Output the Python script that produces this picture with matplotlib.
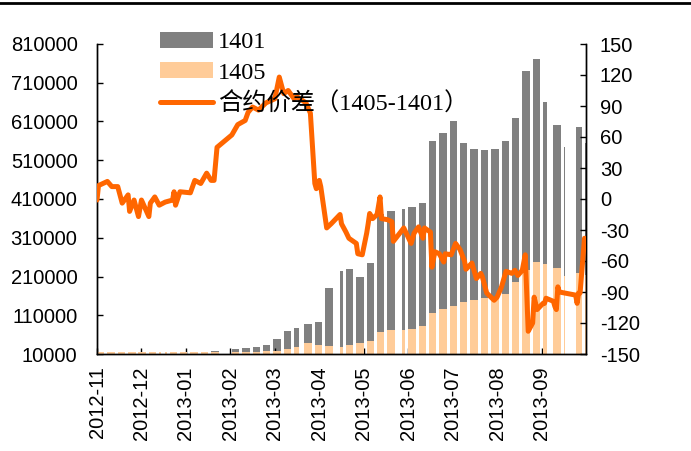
import matplotlib
matplotlib.use("Agg")
import matplotlib.pyplot as plt
import matplotlib.dates as mdates
from matplotlib.patches import Patch
from matplotlib.lines import Line2D
import pandas as pd
import numpy as np

# ---------------- data ----------------
week_starts = pd.date_range("2012-11-19", periods=48, freq="7D")  # Mondays
vol_1401 = [11000, 11000, 12000, 12000, 12000, 12000, 13000, 13000, 14000, 14000,
            15000, 17000, 17000, 22000, 26000, 29000, 34000, 48000, 70000, 78000,
            88000, 93000, 180000, 225000, 230000, 210000, 245000, 370000, 380000, 385000,
            390000, 400000, 560000, 580000, 610000, 555000, 540000, 537000, 540000, 560000,
            620000, 740000, 770000, 660000, 600000, 544000, 596000, 555000]
vol_1405 = [14000, 14000, 14000, 14000, 14000, 14000, 14000, 14000, 14000, 14000,
            14000, 14000, 14000, 14000, 15000, 15000, 17000, 19000, 22000, 28000,
            38000, 34000, 30000, 28000, 33000, 38000, 44000, 68000, 72000, 72000,
            75000, 82000, 115000, 125000, 135000, 145000, 150000, 154000, 156000, 165000,
            195000, 228000, 248000, 242000, 232000, 212000, 218000, 215000]
holidays = pd.to_datetime([
    "2013-01-01", "2013-01-02", "2013-01-03",
    "2013-02-11", "2013-02-12", "2013-02-13", "2013-02-14", "2013-02-15",
    "2013-04-04", "2013-04-05",
    "2013-04-29", "2013-04-30", "2013-05-01",
    "2013-06-10", "2013-06-11", "2013-06-12",
    "2013-09-19", "2013-09-20",
    "2013-10-01", "2013-10-02", "2013-10-03", "2013-10-04", "2013-10-07"])

spread_dates = pd.to_datetime([
    "2012-11-19", "2012-11-20", "2012-11-23", "2012-11-26", "2012-11-29", "2012-12-03",
    "2012-12-06", "2012-12-10", "2012-12-11", "2012-12-14", "2012-12-17", "2012-12-19",
    "2012-12-24", "2012-12-25", "2012-12-28", "2012-12-31", "2013-01-04", "2013-01-09",
    "2013-01-10", "2013-01-11", "2013-01-14", "2013-01-21", "2013-01-24", "2013-01-28",
    "2013-02-01", "2013-02-04", "2013-02-06", "2013-02-08", "2013-02-18", "2013-02-22",
    "2013-02-27", "2013-03-01", "2013-03-04", "2013-03-08", "2013-03-13", "2013-03-19",
    "2013-03-22", "2013-03-25", "2013-03-28", "2013-04-01", "2013-04-03", "2013-04-09",
    "2013-04-12", "2013-04-15", "2013-04-16", "2013-04-18", "2013-04-19", "2013-04-23",
    "2013-04-26", "2013-05-02", "2013-05-03", "2013-05-06", "2013-05-08", "2013-05-10",
    "2013-05-13", "2013-05-14", "2013-05-17", "2013-05-20", "2013-05-21", "2013-05-22",
    "2013-05-24", "2013-05-27", "2013-05-29", "2013-05-30", "2013-06-03", "2013-06-06",
    "2013-06-07", "2013-06-13", "2013-06-14", "2013-06-19", "2013-06-21", "2013-06-24",
    "2013-06-27", "2013-06-28", "2013-07-02", "2013-07-03", "2013-07-05", "2013-07-08",
    "2013-07-11", "2013-07-12", "2013-07-16", "2013-07-19", "2013-07-22", "2013-07-25",
    "2013-07-26", "2013-07-30", "2013-08-02", "2013-08-05", "2013-08-06", "2013-08-09",
    "2013-08-14", "2013-08-16", "2013-08-19", "2013-08-22", "2013-08-26", "2013-08-28",
    "2013-08-30", "2013-09-02", "2013-09-04", "2013-09-06", "2013-09-09", "2013-09-10",
    "2013-09-12", "2013-09-16", "2013-09-17", "2013-09-18", "2013-09-23", "2013-09-24",
    "2013-09-25", "2013-09-26", "2013-09-27", "2013-10-08", "2013-10-09", "2013-10-10",
    "2013-10-11", "2013-10-14"])
spread = [-1, 13, 15, 17, 12, 12,
          -4, 4, -12, -1, -17, -1,
          -17, -4, 2, -6, -3, -1,
          7, -6, 7, 6, 18, 15,
          25, 18, 18, 50, 62, 72,
          76, 84, 89, 86, 93, 97,
          118, 102, 105, 97, 99, 93,
          83, 15, 10, 18, 12, -28,
          -24, -15, -24, -32, -38, -40,
          -43, -53, -54, -33, -24, -14,
          -19, -15, 2, -19, -20, -22,
          -41, -30, -28, -43, -33, -27,
          -38, -28, -32, -66, -51, -53,
          -61, -53, -54, -43, -49, -60,
          -68, -62, -77, -72, -75, -91,
          -98, -95, -85, -70, -72, -69,
          -74, -69, -54, -128, -120, -95,
          -107, -101, -101, -96, -99, -104,
          -107, -85, -90, -93, -101, -91,
          -91, -38]

left_ticks = list(range(10000, 810001, 100000))
right_ticks = list(range(-150, 151, 30))
x_start, x_end = pd.Timestamp("2012-11-19"), pd.Timestamp("2013-10-15")
x_ticks = pd.date_range(x_start, periods=11, freq="30D")
x_labels = ["2012-11", "2012-12", "2013-01", "2013-02", "2013-03", "2013-04",
            "2013-05", "2013-06", "2013-07", "2013-08", "2013-09"]

labels = ["1401", "1405", "合约价差（1405-1401）"]
c_1401, c_1405, c_line = "#808080", "#FFCC99", "#FF6600"

# ---------------- figure ----------------
plt.rcParams["font.family"] = ["Liberation Sans", "DejaVu Sans"]
fig = plt.figure(figsize=(6.91, 4.51), dpi=100)
ax = fig.add_axes([97 / 691, 1 - 354 / 451, (586 - 97) / 691, (354 - 44) / 451])
ax2 = ax.twinx()


def runs_for_week(start):
    days = [start + pd.Timedelta(days=i) for i in range(5)]
    trade = [d for d in days if d not in holidays]
    runs, cur = [], []
    for d in trade:
        if cur and (d - cur[-1]).days != 1:
            runs.append(cur)
            cur = []
        cur.append(d)
    if cur:
        runs.append(cur)
    return runs


for series, color, z in ((vol_1401, c_1401, 1), (vol_1405, c_1405, 2)):
    for ws, v in zip(week_starts, series):
        for run in runs_for_week(ws):
            ax.bar(mdates.date2num(run[0]), v, width=len(run), align="edge",
                   color=color, linewidth=0, zorder=z)

ax2.plot(spread_dates, spread, color=c_line, lw=3.6, solid_joinstyle="round",
         solid_capstyle="round", zorder=3)

ax.set_xlim(x_start, x_end)
ax.set_ylim(10000, 810000)
ax2.set_ylim(-150, 150)
ax.set_yticks(left_ticks)
ax.set_yticklabels([str(t) for t in left_ticks])
ax2.set_yticks(right_ticks)
ax2.set_yticklabels([str(t) for t in right_ticks])
ax.set_xticks(x_ticks)
ax.set_xticklabels(x_labels, rotation=90)

for a in (ax, ax2):
    a.spines["top"].set_visible(False)
    for s in ("left", "right", "bottom"):
        a.spines[s].set_linewidth(1.0)
        a.spines[s].set_color("black")
ax.tick_params(axis="y", direction="in", length=4, width=1, labelsize=14.5, pad=14)
ax.tick_params(axis="x", direction="in", length=4, width=1, labelsize=14.5, pad=9)
ax2.tick_params(axis="y", direction="in", length=4, width=1, labelsize=14.5, pad=10)

handles = [Patch(facecolor=c_1401, edgecolor="none"),
           Patch(facecolor=c_1405, edgecolor="none"),
           Line2D([0], [0], color=c_line, lw=3.6, solid_capstyle="round")]
leg = ax2.legend(handles, labels, loc="upper left",
                 bbox_to_anchor=(160 / 691, 1 - 32 / 451), bbox_transform=fig.transFigure,
                 frameon=False, handlelength=2.18, handleheight=0.62, handletextpad=0.2,
                 labelspacing=0.36, borderaxespad=0, borderpad=0,
                 prop={"family": ["Liberation Serif", "Noto Sans CJK SC"], "size": 17.5})

fig.add_artist(Line2D([0, 1], [1 - 2.5 / 451, 1 - 2.5 / 451], transform=fig.transFigure,
                      color="black", lw=2))

fig.savefig("out.png", dpi=100)
